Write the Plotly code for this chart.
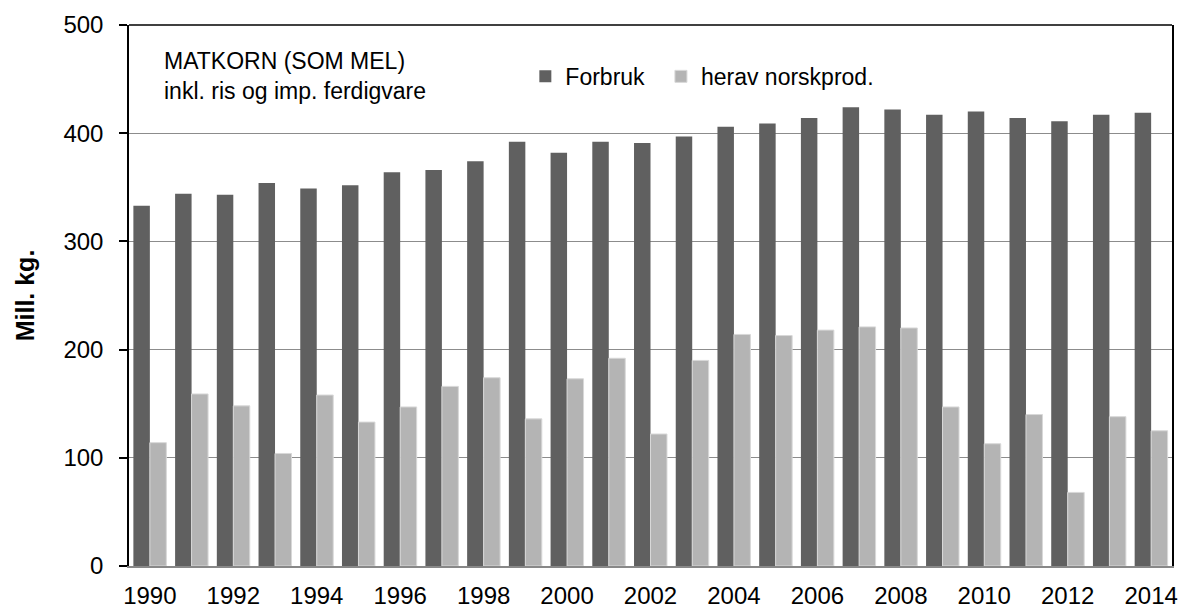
import plotly.graph_objects as go

years = list(range(1990, 2015))
forbruk = [333, 344, 343, 354, 349, 352, 364, 366, 374, 392, 382, 392, 391, 397,
           406, 409, 414, 424, 422, 417, 420, 414, 411, 417, 419]
norskprod = [114, 159, 148, 104, 158, 133, 147, 166, 174, 136, 173, 192, 122, 190,
             214, 213, 218, 221, 220, 147, 113, 140, 68, 138, 125]
y_ticks = [0, 100, 200, 300, 400, 500]
x_ticks = list(range(1990, 2015, 2))

FONT = "Liberation Sans, Arial, sans-serif"
DARK = "#606060"
LIGHT = "#b4b4b4"

fig = go.Figure()
fig.add_trace(go.Bar(x=years, y=forbruk, name="Forbruk", marker_color=DARK,
                     marker_line_width=0, legend="legend"))
fig.add_trace(go.Bar(x=years, y=norskprod, name="herav norskprod.", marker_color=LIGHT,
                     marker_line=dict(width=1, color="#d8d8d8"), legend="legend2"))

leg_common = dict(orientation="h", yanchor="middle", xanchor="left",
                  font=dict(family=FONT, size=23, color="black"),
                  bgcolor="rgba(0,0,0,0)")

fig.update_layout(
    width=1183, height=608,
    margin=dict(l=129, r=11, t=25, b=42, autoexpand=False),
    paper_bgcolor="white", plot_bgcolor="white",
    barmode="group", bargap=0.21, bargroupgap=0,
    font=dict(family=FONT, size=23, color="black"),
    showlegend=True,
    legend=dict(x=0.380, y=0.905, **leg_common),
    legend2=dict(x=0.510, y=0.905, **leg_common),
)

fig.update_xaxes(
    type="linear", range=[1989.5, 2014.5],
    tickvals=x_ticks, ticktext=[str(v) for v in x_ticks],
    showgrid=False, zeroline=False, automargin=False,
    showline=True, linecolor="#888888", linewidth=1.5,
    ticks="", tickfont=dict(family=FONT, size=24, color="black"),
    ticklabelstandoff=7,
)
fig.update_yaxes(
    range=[0, 500], tickvals=y_ticks, automargin=False,
    showgrid=True, gridcolor="#8c8c8c", gridwidth=1,
    zeroline=False,
    showline=True, linecolor="black", linewidth=1.5, mirror=True,
    ticks="outside", ticklen=8, tickcolor="black", tickwidth=1.5,
    tickfont=dict(family=FONT, size=24, color="black"),
    ticklabelstandoff=11,
    title=dict(text="<b>Mill. kg.</b>", font=dict(family=FONT, size=25, color="black"),
               standoff=22),
)

# top border
fig.add_shape(type="line", xref="paper", yref="paper", x0=0, x1=1, y0=1, y1=1,
              line=dict(color="black", width=1.5))

fig.add_annotation(
    xref="paper", yref="paper", x=0.032, y=0.962, xanchor="left", yanchor="top",
    align="left", showarrow=False,
    text="MATKORN (SOM MEL)<br>inkl. ris og imp. ferdigvare",
    font=dict(family=FONT, size=23, color="black"),
)

fig.write_html(
    "out.html",
    config={"displayModeBar": False},
    post_script="document.body.style.margin='0px';document.body.style.overflow='hidden';",
)
